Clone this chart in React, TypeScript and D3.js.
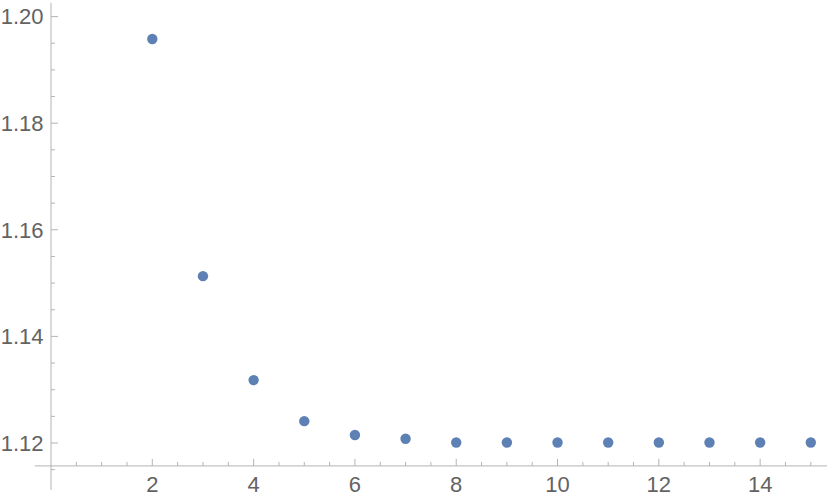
import React from "react";
import * as d3 from "d3";

const xs = [2, 3, 4, 5, 6, 7, 8, 9, 10, 11, 12, 13, 14, 15];
const ys = [1.1958, 1.1513, 1.1318, 1.1241, 1.1215, 1.1208, 1.1201, 1.1201, 1.1201, 1.1201, 1.1201, 1.1201, 1.1201, 1.1201];
const xMajor = [2, 4, 6, 8, 10, 12, 14];
const yMajor = [1.12, 1.14, 1.16, 1.18, 1.2];

export default function App() {
  const W = 830, H = 502;
  const x = d3.scaleLinear().domain([0, 15]).range([51, 810.8]);
  const y = d3.scaleLinear().domain([1.12, 1.2]).range([443, 16.6]);
  const x0 = x(0), y0 = y(1.1157);
  const axisColor = "#b4b4b4";
  const labelColor = "#636363";
  const font = "'Liberation Sans', Arial, sans-serif";

  const xMinor = d3.range(0.5, 15.01, 0.5).filter((v) => !xMajor.includes(v));
  const yMinor = d3.range(1.115, 1.2001, 0.005).map((v) => +v.toFixed(3)).filter((v) => !yMajor.some((m) => Math.abs(m - v) < 1e-9));

  return (
    <svg width={W} height={H} style={{ position: "absolute", left: 0, top: 0 }}>
      <rect width={W} height={H} fill="white" />
      <line x1={x(-0.32)} x2={x(15.32)} y1={y0} y2={y0} stroke={axisColor} strokeWidth={1} />
      <line x1={x0} x2={x0} y1={y(1.2026)} y2={y(1.1112)} stroke={axisColor} strokeWidth={1} />
      {xMajor.map((v) => (
        <g key={"xm" + v}>
          <line x1={x(v)} x2={x(v)} y1={y0} y2={y0 - 7} stroke={axisColor} />
          <text x={x(v)} y={y0 + 26} textAnchor="middle" fontFamily={font} fontSize={22} fill={labelColor}>{v}</text>
        </g>
      ))}
      {xMinor.map((v) => (
        <line key={"xn" + v} x1={x(v)} x2={x(v)} y1={y0} y2={y0 - 4} stroke={axisColor} />
      ))}
      {yMajor.map((v) => (
        <g key={"ym" + v}>
          <line x1={x0} x2={x0 + 7} y1={y(v)} y2={y(v)} stroke={axisColor} />
          <text x={x0 - 7.5} y={y(v)} dy="0.35em" textAnchor="end" fontFamily={font} fontSize={22} fill={labelColor}>{v.toFixed(2)}</text>
        </g>
      ))}
      {yMinor.map((v) => (
        <line key={"yn" + v} x1={x0} x2={x0 + 4} y1={y(v)} y2={y(v)} stroke={axisColor} />
      ))}
      {xs.map((v, i) => (
        <circle key={"p" + v} cx={x(v)} cy={y(ys[i])} r={5.2} fill="#5e81b5" />
      ))}
    </svg>
  );
}
